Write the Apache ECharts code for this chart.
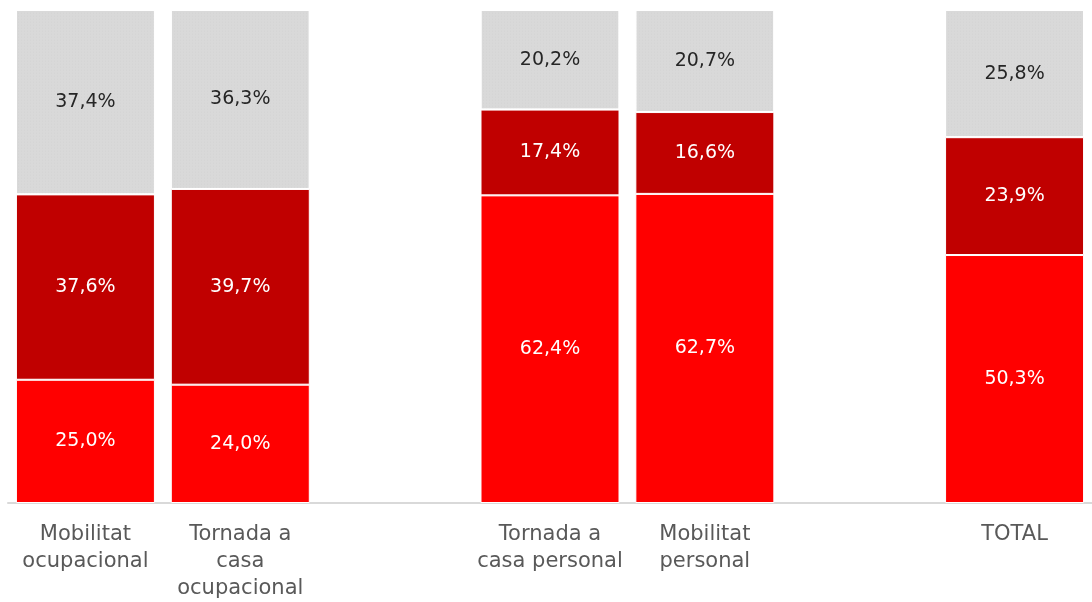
<!DOCTYPE html>
<html>
<head>
<meta charset="utf-8">
<script src="https://cdn.jsdelivr.net/npm/echarts@6/dist/echarts.min.js"></script>
<style>
  html, body { margin: 0; padding: 0; background: #fff; }
  #chart { width: 1092px; height: 602px; }
</style>
</head>
<body>
<div id="chart"></div>
<script>
// Categories (empty strings leave gaps between the groups)
const categories = [
  'Mobilitat\nocupacional',
  'Tornada a\ncasa\nocupacional',
  '',
  'Tornada a\ncasa personal',
  'Mobilitat\npersonal',
  '',
  'TOTAL'
];

// Stacked shares (%), bottom to top
const redValues     = [25.0, 24.0, null, 62.4, 62.7, null, 50.3];
const darkRedValues = [37.6, 39.7, null, 17.4, 16.6, null, 23.9];
const greyValues    = [37.4, 36.3, null, 20.2, 20.7, null, 25.8];

const FONT = 'DejaVu Sans';

function pct(p) {
  return p.value == null ? '' : p.value.toFixed(1).replace('.', ',') + '%';
}

function seriesOf(name, data, color, labelColor, decal) {
  const itemStyle = {
    color: color,
    borderColor: '#ffffff',
    borderWidth: 1
  };
  if (decal) itemStyle.decal = decal;
  return {
    name: name,
    type: 'bar',
    stack: 'total',
    data: data,
    barWidth: 139,
    itemStyle: itemStyle,
    label: {
      show: true,
      position: 'inside',
      formatter: pct,
      color: labelColor,
      fontFamily: FONT,
      fontSize: 19
    },
    emphasis: { disabled: true }
  };
}

const chart = echarts.init(document.getElementById('chart'), null, { renderer: 'canvas' });

chart.setOption({
  animation: false,
  grid: { left: 8, top: 10, width: 1088, height: 498, containLabel: false },
  xAxis: {
    type: 'category',
    data: categories,
    axisLine: { lineStyle: { color: '#d9d9d9', width: 2 } },
    axisTick: { show: false },
    axisLabel: {
      interval: 0,
      margin: 18,
      color: '#595959',
      fontFamily: FONT,
      fontSize: 21,
      lineHeight: 27,
      verticalAlign: 'top'
    }
  },
  yAxis: {
    type: 'value',
    min: 0,
    max: 100,
    show: false,
    splitLine: { show: false }
  },
  series: [
    seriesOf('vermell', redValues, '#ff0000', '#ffffff'),
    seriesOf('granat', darkRedValues, '#c00000', '#ffffff'),
    // fine dotted grain over the grey segments
    seriesOf('gris', greyValues, '#d9d9d9', '#262626', {
      symbol: 'circle',
      symbolSize: 0.6,
      color: 'rgba(150,150,150,0.35)',
      dashArrayX: [[1, 2]],
      dashArrayY: [2, 1],
      rotation: 0
    })
  ]
});
</script>
</body>
</html>
